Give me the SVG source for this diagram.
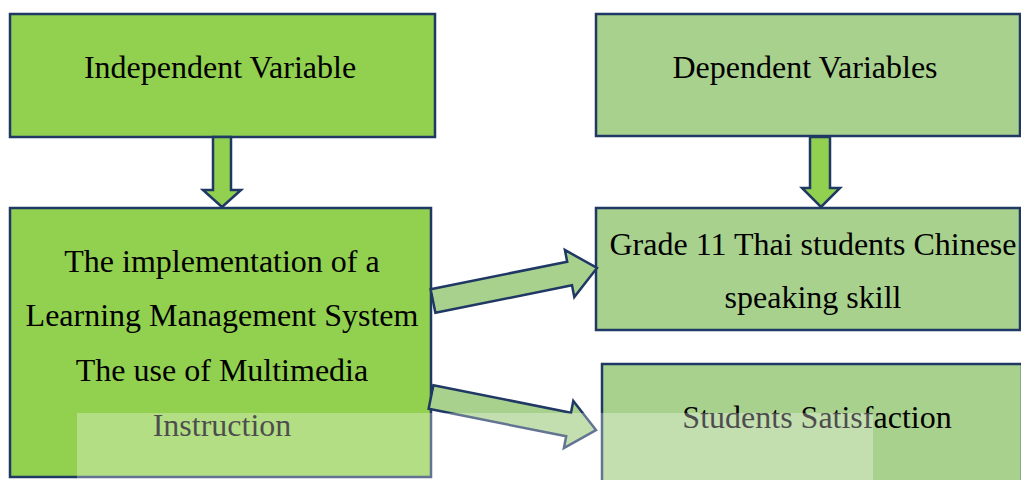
<svg xmlns="http://www.w3.org/2000/svg" width="1021" height="480" viewBox="0 0 1021 480">
<style>
.box{stroke:#1F3864;stroke-width:2.5}
.dark{fill:#92D050}
.light{fill:#A9D18E}
.arr{stroke:#1F3864;stroke-width:2.5;stroke-linejoin:miter}
.t{font-family:"Liberation Serif","Times New Roman",serif;font-size:32px;fill:#000;text-anchor:middle}
</style>
<rect width="1021" height="480" fill="#fff"/>
<g id="n1">
<rect class="box dark" x="10" y="14" width="425" height="123"/>
<text class="t" x="220" y="78">Independent Variable</text>
</g>
<g id="n2">
<rect class="box light" x="596" y="14" width="424" height="122"/>
<text class="t" x="805" y="78">Dependent Variables</text>
</g>
<g id="n3">
<rect class="box dark" x="10" y="208" width="421" height="269"/>
<text class="t" x="222" y="272">The implementation of a</text>
<text class="t" x="222" y="326">Learning Management System</text>
<text class="t" x="222" y="381">The use of Multimedia</text>
<text class="t" x="222" y="436">Instruction</text>
</g>
<g id="n4">
<rect class="box light" x="596" y="208" width="424" height="122"/>
<text class="t" x="813" y="255">Grade 11 Thai students Chinese</text>
<text class="t" x="813" y="308">speaking skill</text>
</g>
<g id="n5">
<rect class="box light" x="602" y="364" width="420" height="130"/>
<text class="t" x="817" y="428">Students Satisfaction</text>
</g>
<g id="connectors">
<polygon class="arr dark" points="213,137 231,137 231,190 241,190 222,207 203,190 213,190"/>
<polygon class="arr dark" points="810,137 830,137 830,188 840,188 821,207 802,188 810,188"/>
<polygon class="arr light" points="430.6,289.2 567.2,261.7 564.9,250 597,268 574.3,297 572,285.3 435.4,312.8"/>
<polygon class="arr light" points="433.4,385.2 571,412.7 573.3,401 596,430 563.9,448 566.2,436.3 428.6,408.8"/>
</g>
<rect x="77" y="413" width="796" height="67" fill="#fff" fill-opacity="0.3"/>
</svg>
